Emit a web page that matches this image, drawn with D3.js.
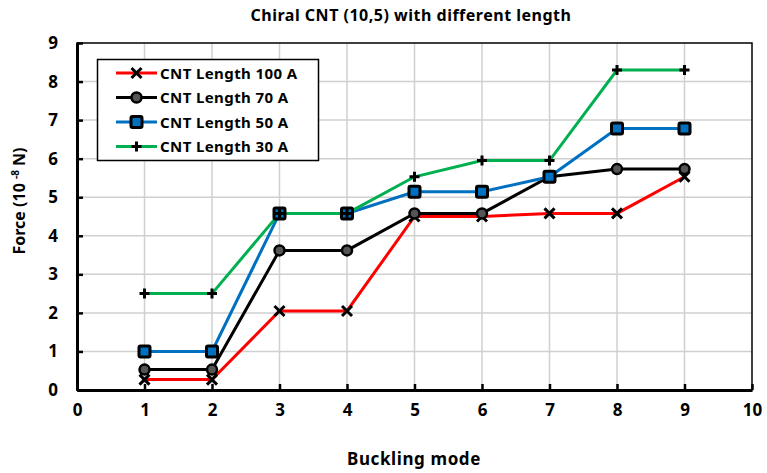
<!DOCTYPE html>
<html lang="en">
<head>
  <meta charset="utf-8" />
  <style>
    body { margin: 0; background: #fff; }
    text { font-family: "Noto Sans", "Open Sans", sans-serif; font-weight: bold; }
  </style>
</head>
<body>
<svg width="767" height="473"></svg>
<script src="https://d3js.org/d3.v7.min.js"></script>
<script>
var modes = [1, 2, 3, 4, 5, 6, 7, 8, 9];
var len100 = [0.27, 0.27, 2.05, 2.05, 4.5, 4.5, 4.58, 4.58, 5.53];
var len70 = [0.53, 0.53, 3.62, 3.62, 4.58, 4.58, 5.53, 5.73, 5.73];
var len50 = [1.0, 1.0, 4.58, 4.58, 5.14, 5.14, 5.53, 6.78, 6.78];
var len30 = [2.5, 2.5, 4.58, 4.58, 5.53, 5.95, 5.95, 8.3, 8.3];
var xTicks = [0, 1, 2, 3, 4, 5, 6, 7, 8, 9, 10];
var yTicks = [0, 1, 2, 3, 4, 5, 6, 7, 8, 9];

var series = [
  { name: "CNT Length 100 A", values: len100, color: "#ff0000", marker: "x" },
  { name: "CNT Length 70 A", values: len70, color: "#000000", marker: "circle" },
  { name: "CNT Length 50 A", values: len50, color: "#0070c0", marker: "square" },
  { name: "CNT Length 30 A", values: len30, color: "#00b050", marker: "plus" }
];

var svg = d3.select("svg"),
    plotL = 77, plotR = 752, plotT = 43, plotB = 390;

var x = d3.scaleLinear().domain([0, 10]).range([plotL, plotR]);
var y = d3.scaleLinear().domain([0, 9]).range([plotB, plotT]);

// gridlines
svg.append("g")
  .selectAll("line")
  .data(xTicks.slice(1, -1))
  .enter().append("line")
  .attr("x1", function(d) { return x(d); })
  .attr("x2", function(d) { return x(d); })
  .attr("y1", plotT).attr("y2", plotB)
  .attr("stroke", "#d0d0d0").attr("stroke-width", 1.5);

svg.append("g")
  .selectAll("line")
  .data(yTicks.slice(1, -1))
  .enter().append("line")
  .attr("y1", function(d) { return y(d); })
  .attr("y2", function(d) { return y(d); })
  .attr("x1", plotL).attr("x2", plotR)
  .attr("stroke", "#d0d0d0").attr("stroke-width", 1.5);

// frame
svg.append("rect")
  .attr("x", plotL).attr("y", plotT)
  .attr("width", plotR - plotL).attr("height", plotB - plotT)
  .attr("fill", "none").attr("stroke", "#000").attr("stroke-width", 1.5);

// axes
var xAxis = svg.append("g")
  .attr("transform", "translate(0," + plotB + ")")
  .call(d3.axisBottom(x).tickValues(xTicks).tickSizeInner(-6).tickSizeOuter(0).tickPadding(14));
var yAxis = svg.append("g")
  .attr("transform", "translate(" + plotL + ",0)")
  .call(d3.axisLeft(y).tickValues(yTicks).tickSizeInner(-6).tickSizeOuter(0).tickPadding(19));

[xAxis, yAxis].forEach(function(a) {
  a.select(".domain").attr("stroke", "#000").attr("stroke-width", 3);
  a.selectAll(".tick line").attr("stroke", "#000").attr("stroke-width", 2.5);
  a.selectAll(".tick text").attr("font-size", 17).attr("fill", "#000")
    .style("font-family", "'Noto Sans', sans-serif").style("font-weight", "bold");
});

// lines
var line = d3.line()
  .x(function(d, i) { return x(modes[i]); })
  .y(function(d) { return y(d); });

series.forEach(function(s) {
  svg.append("path")
    .datum(s.values)
    .attr("d", line)
    .attr("fill", "none")
    .attr("stroke", s.color)
    .attr("stroke-width", 3);
});

function drawMarker(g, type, cx, cy, color) {
  if (type === "x") {
    g.append("path")
      .attr("d", "M" + (cx - 5) + "," + (cy - 5) + "L" + (cx + 5) + "," + (cy + 5) +
                 "M" + (cx - 5) + "," + (cy + 5) + "L" + (cx + 5) + "," + (cy - 5))
      .attr("stroke", "#000").attr("stroke-width", 3);
  } else if (type === "circle") {
    g.append("circle").attr("cx", cx).attr("cy", cy).attr("r", 5)
      .attr("fill", "#555").attr("stroke", "#000").attr("stroke-width", 2.5);
  } else if (type === "square") {
    g.append("rect").attr("x", cx - 5.5).attr("y", cy - 5.5)
      .attr("width", 11).attr("height", 11).attr("rx", 1.5)
      .attr("fill", color).attr("stroke", "#000").attr("stroke-width", 3);
  } else {
    g.append("path")
      .attr("d", "M" + (cx - 5) + "," + cy + "L" + (cx + 5) + "," + cy +
                 "M" + cx + "," + (cy - 5) + "L" + cx + "," + (cy + 5))
      .attr("stroke", "#000").attr("stroke-width", 3);
  }
}

series.forEach(function(s) {
  var g = svg.append("g");
  s.values.forEach(function(v, i) {
    drawMarker(g, s.marker, x(modes[i]), y(v), s.color);
  });
});

// legend
var lg = svg.append("g");
lg.append("rect")
  .attr("x", 97.5).attr("y", 59.5).attr("width", 221).attr("height", 101)
  .attr("fill", "#fff").attr("stroke", "#000").attr("stroke-width", 1.5);
series.forEach(function(s, i) {
  var yy = 73 + i * 24.5;
  lg.append("line").attr("x1", 116).attr("x2", 157).attr("y1", yy).attr("y2", yy)
    .attr("stroke", s.color).attr("stroke-width", 3);
  drawMarker(lg, s.marker, 136.5, yy, s.color);
  lg.append("text").attr("x", 160).attr("y", yy + 5.5)
    .attr("font-size", 15).attr("letter-spacing", 0.4).text(s.name);
});

// titles
svg.append("text").attr("x", 411).attr("y", 21).attr("text-anchor", "middle")
  .attr("font-size", 16).attr("letter-spacing", 0.5).text("Chiral CNT (10,5) with different length");
svg.append("text").attr("x", 414).attr("y", 465).attr("text-anchor", "middle")
  .attr("font-size", 17).attr("letter-spacing", 0.6).text("Buckling mode");
var yl = svg.append("text")
  .attr("transform", "translate(25,201) rotate(-90)")
  .attr("text-anchor", "middle").attr("font-size", 16);
yl.append("tspan").text("Force (10 ");
yl.append("tspan").attr("font-size", 10).attr("dy", -6).text("-8");
yl.append("tspan").attr("dy", 6).text(" N)");
</script>
</body>
</html>
